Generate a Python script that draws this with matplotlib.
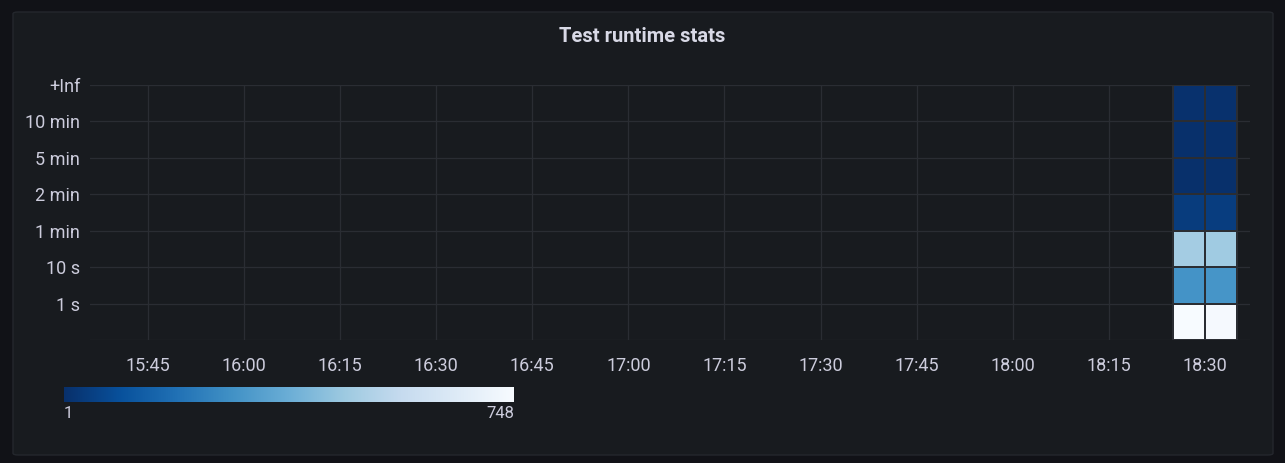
import numpy as np
import matplotlib.pyplot as plt
import matplotlib.dates as mdates
from matplotlib.patches import FancyBboxPatch
from datetime import datetime

plt.rcParams['font.family'] = ['Roboto', 'DejaVu Sans']

# buckets (upper bounds), bottom to top
bucket_labels = ["1 s", "10 s", "1 min", "2 min", "5 min", "10 min", "+Inf"]
# time buckets (5 min wide)
col_starts = ["18:25", "18:30"]
counts = [
    [748, 738],   # <= 1 s
    [285, 292],   # 1 s - 10 s
    [480, 472],   # 10 s - 1 min
    [38, 40],     # 1 min - 2 min
    [3, 2],       # 2 min - 5 min
    [2, 3],       # 5 min - 10 min
    [5, 4],       # 10 min - +Inf
]
x_start, x_end = "15:36", "18:37"
cmin, cmax = 1, 748

def t(s):
    return datetime.strptime("2023-01-01 " + s, "%Y-%m-%d %H:%M")

bg_outer = "#111217"
bg_panel = "#181b1f"
txt = "#ccccdc"
grid = "#2a2d33"

fig = plt.figure(figsize=(12.85, 4.63), dpi=100, facecolor=bg_outer)
panel = FancyBboxPatch((13/1285, 8/463), 1260/1285, 443/463,
                       boxstyle="round,pad=0,rounding_size=0.004",
                       transform=fig.transFigure, facecolor=bg_panel,
                       edgecolor="#24272d", linewidth=1, zorder=-10)
fig.patches.append(panel)

fig.text(0.5, 1 - 36/463, "Test runtime stats", ha="center", va="center",
         color="#d8d9e6", fontsize=14.5, fontweight="bold")

ax = fig.add_axes([90/1285, 1 - 340/463, 1160/1285, 255/463])
ax.set_facecolor(bg_panel)

xs = [mdates.date2num(t(c)) for c in col_starts]
xs.append(xs[-1] + (xs[1] - xs[0]))
ys = np.arange(len(bucket_labels) + 1)
ax.pcolormesh(xs, ys, np.array(counts), cmap="Blues_r", vmin=cmin, vmax=cmax,
              edgecolors="#2a2d33", linewidth=1.2, zorder=3)

ax.set_xlim(t(x_start), t(x_end))
ax.set_ylim(0, len(bucket_labels))
ax.set_yticks(ys[1:])
ax.set_yticklabels(bucket_labels)
ax.xaxis.set_major_locator(mdates.MinuteLocator(byminute=[0, 15, 30, 45]))
ax.xaxis.set_major_formatter(mdates.DateFormatter("%H:%M"))
ax.tick_params(colors=txt, labelsize=13, length=0)
ax.tick_params(axis="x", pad=12)
ax.tick_params(axis="y", pad=7)
ax.grid(True, color=grid, linewidth=0.9, zorder=0)
ax.set_yticks(ys, minor=True)
ax.tick_params(which="minor", length=0)
ax.grid(True, which="minor", axis="y", color=grid, linewidth=0.9)
for s in ax.spines.values():
    s.set_visible(False)

cax = fig.add_axes([64/1285, 1 - 402/463, 450/1285, 15/463])
cax.imshow(np.linspace(cmin, cmax, 256)[None, :], aspect="auto", cmap="Blues_r",
           vmin=cmin, vmax=cmax, extent=[0, 1, 0, 1])
cax.set_axis_off()
fig.text(64/1285, 1 - 413/463, str(cmin), ha="left", va="center", color=txt, fontsize=12)
fig.text(514/1285, 1 - 413/463, str(cmax), ha="right", va="center", color=txt, fontsize=12)

fig.savefig("out.png", dpi=100, facecolor=bg_outer)
